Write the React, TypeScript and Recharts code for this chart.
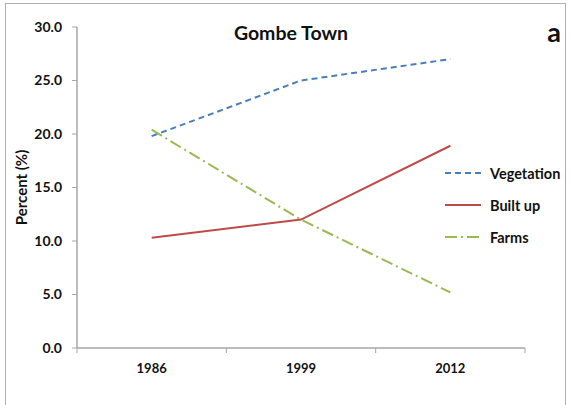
import { LineChart, Line, XAxis, YAxis } from 'recharts';

const years = ['1986', '1999', '2012'];
const vegetation = [19.8, 25.0, 27.0];
const builtUp = [10.3, 12.0, 18.9];
const farms = [20.4, 12.0, 5.2];
const yTicks = [0, 5, 10, 15, 20, 25, 30];

const seriesStyle: Record<string, { color: string; dash?: string }> = {
  Vegetation: { color: '#4A7EBB', dash: '6 4' },
  'Built up': { color: '#BE4B48' },
  Farms: { color: '#98B954', dash: '12 4 2 4' },
};

const data = years.map((year, i) => ({
  year,
  Vegetation: vegetation[i],
  'Built up': builtUp[i],
  Farms: farms[i],
}));

const font = 'Lato, "Open Sans", sans-serif';
const axisGrey = '#a6a6a6';

// Excel-style category ticks: marks sit on the band edges, label in the middle
function YearTick(props: any) {
  const { x, y, payload, index, visibleTicksCount } = props;
  const half = payload.offset ?? 0;
  const top = y - 16;
  const last = index === (visibleTicksCount ?? years.length) - 1;
  return (
    <g>
      <line x1={x - half} y1={top} x2={x - half} y2={top + 5} stroke={axisGrey} />
      {last && <line x1={x + half} y1={top} x2={x + half} y2={top + 5} stroke={axisGrey} />}
      <text x={x} y={y} dy="0.71em" textAnchor="middle" fill="#111" fontSize={13} fontWeight={700} fontFamily={font}>
        {payload.value}
      </text>
    </g>
  );
}

function ChartLegend() {
  return (
    <div
      style={{
        position: 'absolute',
        left: 445,
        top: 157,
        fontFamily: font,
        fontWeight: 700,
        fontSize: 14.5,
        color: '#111',
      }}
    >
      {Object.keys(seriesStyle).map((name) => (
        <div key={name} style={{ display: 'flex', alignItems: 'center', height: 32 }}>
          <svg width={36} height={10}>
            <line
              x1={0}
              y1={5}
              x2={36}
              y2={5}
              stroke={seriesStyle[name].color}
              strokeWidth={2}
              strokeDasharray={seriesStyle[name].dash}
            />
          </svg>
          <span style={{ marginLeft: 9 }}>{name}</span>
        </div>
      ))}
    </div>
  );
}

export default function App() {
  return (
    <div
      style={{
        position: 'absolute',
        left: 0,
        top: 0,
        width: 571,
        height: 405,
        background: '#fff',
        fontFamily: font,
      }}
    >
      <div
        style={{
          position: 'absolute',
          left: 5,
          top: 3,
          width: 561,
          height: 410,
          border: '1px solid #b0b0b0',
          boxSizing: 'border-box',
        }}
      />
      <LineChart
        width={571}
        height={405}
        data={data}
        margin={{ top: 27, right: 46, left: 0, bottom: 0 }}
        style={{ position: 'absolute', left: 0, top: 0 }}
      >
        <XAxis
          dataKey="year"
          scale="band"
          height={57}
          axisLine={{ stroke: axisGrey, strokeWidth: 1.5 }}
          tickLine={false}
          tickSize={0}
          tickMargin={16}
          tick={<YearTick />}
        />
        <YAxis
          width={77}
          domain={[0, 30]}
          ticks={yTicks}
          tickFormatter={(v: number) => v.toFixed(1)}
          axisLine={{ stroke: axisGrey, strokeWidth: 1.5 }}
          tickLine={{ stroke: axisGrey }}
          tickSize={5}
          tickMargin={10}
          tick={{ fill: '#111', fontSize: 14, fontWeight: 700, fontFamily: font }}
          label={{
            value: 'Percent (%)',
            angle: -90,
            position: 'insideLeft',
            offset: 22,
            style: { fill: '#111', fontSize: 15, fontWeight: 700, textAnchor: 'middle', fontFamily: font },
          }}
        />
        {Object.keys(seriesStyle).map((name) => (
          <Line
            key={name}
            type="linear"
            dataKey={name}
            stroke={seriesStyle[name].color}
            strokeWidth={2}
            strokeDasharray={seriesStyle[name].dash}
            dot={false}
            isAnimationActive={false}
          />
        ))}
        <text x={291} y={40} textAnchor="middle" fontSize={19.5} fontWeight={700} fill="#111" fontFamily={font}>
          Gombe Town
        </text>
        <text x={554} y={42} textAnchor="middle" fontSize={27} fontWeight={700} fill="#111" fontFamily={font}>
          a
        </text>
      </LineChart>
      <ChartLegend />
    </div>
  );
}
